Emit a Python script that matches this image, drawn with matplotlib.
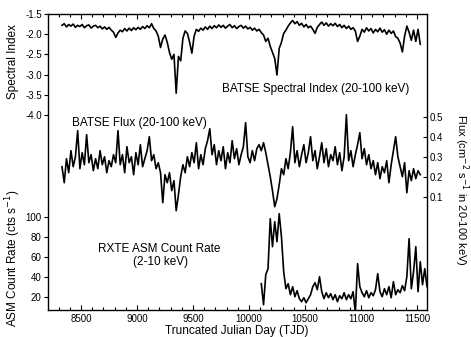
import numpy as np
import matplotlib.pyplot as plt
from matplotlib.ticker import MultipleLocator, FormatStrFormatter

plt.rcParams['font.family'] = ['Liberation Sans', 'DejaVu Sans']
plt.rcParams['axes.unicode_minus'] = False

# BATSE spectral index, sampled every 20 days from TJD 8330
spec_day = np.arange(8330, 11531, 20)
spec_index = [
    -1.78, -1.74, -1.82, -1.76, -1.80, -1.75, -1.83, -1.78, -1.81, -1.76,
    -1.84, -1.79, -1.77, -1.85, -1.80, -1.78, -1.84, -1.80, -1.87, -1.82,
    -1.88, -1.83, -1.90, -1.95, -2.08, -1.97, -1.90, -1.94, -1.86, -1.92,
    -1.85, -1.91, -1.84, -1.89, -1.83, -1.88, -1.81, -1.86, -1.79, -1.84,
    -1.74, -1.86, -1.92, -2.05, -2.33, -2.12, -2.02, -2.20, -2.45, -2.62,
    -2.50, -3.46, -2.55, -2.66, -2.10, -1.92, -1.98, -2.20, -2.47, -2.05,
    -1.88, -1.93, -1.85, -1.90, -1.82, -1.88, -1.80, -1.86, -1.79, -1.84,
    -1.77, -1.83, -1.78, -1.85, -1.80, -1.76, -1.84, -1.79, -1.86, -1.81,
    -1.78, -1.85, -1.80, -1.87, -1.83, -1.90, -1.85, -1.92, -1.88, -1.96,
    -2.02, -2.18, -2.10, -2.30, -2.45, -2.60, -3.01, -2.35, -2.20, -1.98,
    -1.90, -1.80, -1.72, -1.66, -1.74, -1.69, -1.78, -1.73, -1.82, -1.76,
    -1.84, -1.80, -1.88, -1.98, -1.83, -1.76, -1.70, -1.78, -1.72, -1.80,
    -1.74, -1.79, -1.73, -1.81, -1.76, -1.84, -1.78, -1.86, -1.80, -1.88,
    -1.84, -1.92, -2.18, -2.05, -1.88, -1.95, -1.84, -1.92, -1.86, -1.97,
    -1.88, -1.94, -1.85, -1.95, -1.89, -2.00, -1.90, -1.98, -1.92, -2.06,
    -2.10, -2.22, -2.44, -2.05, -1.80, -1.95, -2.15, -1.90, -2.18, -1.88,
    -2.25,
]

# BATSE flux 20-100 keV, same sampling
flux_day = np.arange(8330, 11531, 20)
flux = [
    0.25, 0.17, 0.29, 0.22, 0.33, 0.25, 0.30, 0.43, 0.24, 0.32,
    0.26, 0.41, 0.27, 0.31, 0.23, 0.29, 0.24, 0.33, 0.26, 0.30,
    0.22, 0.28, 0.25, 0.31, 0.27, 0.43, 0.26, 0.31, 0.22, 0.35,
    0.27, 0.30, 0.21, 0.32, 0.26, 0.36, 0.25, 0.29, 0.33, 0.40,
    0.28, 0.31, 0.24, 0.27, 0.22, 0.07, 0.21, 0.17, 0.22, 0.13,
    0.18, 0.03, 0.11, 0.20, 0.26, 0.22, 0.30, 0.25, 0.32, 0.27,
    0.37, 0.24, 0.31, 0.26, 0.34, 0.38, 0.44, 0.31, 0.36, 0.26,
    0.33, 0.28, 0.35, 0.24, 0.32, 0.27, 0.38, 0.29, 0.34, 0.26,
    0.31, 0.35, 0.47, 0.30, 0.27, 0.33, 0.28, 0.34, 0.36, 0.33,
    0.37, 0.32, 0.26, 0.20, 0.13, 0.05, 0.09, 0.16, 0.24, 0.21,
    0.29, 0.24, 0.32, 0.45, 0.27, 0.33, 0.25, 0.31, 0.36, 0.27,
    0.32, 0.40, 0.28, 0.33, 0.24, 0.30, 0.37, 0.27, 0.34, 0.25,
    0.31, 0.28, 0.35, 0.26, 0.32, 0.23, 0.30, 0.51, 0.28, 0.33,
    0.25, 0.31, 0.36, 0.42, 0.29, 0.34, 0.26, 0.31, 0.24, 0.28,
    0.21, 0.27, 0.19, 0.25, 0.22, 0.28, 0.17, 0.26, 0.33, 0.40,
    0.30, 0.25, 0.20, 0.27, 0.12, 0.23, 0.18, 0.24, 0.19, 0.23,
    0.21,
]

# RXTE ASM count rate 2-10 keV, every 20 days from TJD 10110
asm_day = np.arange(10110, 11591, 20)
asm_rate = [
    33, 12, 42, 48, 98, 70, 95, 75, 103, 80,
    45, 28, 33, 22, 30, 20, 26, 18, 15, 19,
    14, 18, 22, 30, 34, 27, 40, 25, 18, 24,
    19, 23, 17, 22, 15, 21, 18, 24, 17, 22,
    18, 25, 4, 53, 30, 24, 20, 26, 19, 24,
    21, 27, 43, 25, 20, 28, 22, 30, 19, 35,
    22, 27, 24, 31, 26, 40, 78, 28, 45, 70,
    25, 55, 32, 48, 30,
]

W, H = 471, 337
fig = plt.figure(figsize=(W / 100, H / 100), dpi=100)
box = [48 / W, 1 - 310 / H, (427 - 48) / W, (310 - 14) / H]

def px(x, y):
    return x / W, 1 - y / H

# outer frame carries the x axis
ax = fig.add_axes(box)
ax.set_xlim(8205, 11590)
ax.set_yticks([])
ax.xaxis.set_major_locator(MultipleLocator(500))
ax.xaxis.set_minor_locator(MultipleLocator(100))
ax.tick_params(axis='x', which='major', direction='in', top=True, length=3.5,
               width=0.8, labelsize=7, pad=3)
ax.tick_params(axis='x', which='minor', direction='in', top=True, length=2.5, width=0.8)
for s in ax.spines.values():
    s.set_linewidth(1.0)

def overlay():
    a = fig.add_axes(box, sharex=ax)
    a.patch.set_visible(False)
    for s in a.spines.values():
        s.set_visible(False)
    a.xaxis.set_visible(False)
    return a

# spectral index panel
ax1 = overlay()
ax1.plot(spec_day, spec_index, color='black', lw=1.2)
ax1.set_ylim(-1.5 - 296 * 0.02475, -1.5)
ax1.set_yticks(np.arange(-4.0, -1.49, 0.5))
ax1.yaxis.set_major_formatter(FormatStrFormatter('%.1f'))
ax1.tick_params(axis='y', direction='out', length=3, width=0.8, labelsize=7, pad=1.5)

# flux panel, right axis
ax2 = overlay()
ax2.plot(flux_day, flux, color='black', lw=1.2)
ax2.set_ylim(0.5 - 193.3 / 200, 0.5 + 102.7 / 200)
ax2.yaxis.tick_right()
ax2.set_yticks([0.1, 0.2, 0.3, 0.4, 0.5])
ax2.yaxis.set_major_formatter(FormatStrFormatter('%.1f'))
ax2.tick_params(axis='y', direction='in', length=3, width=0.8, labelsize=7, pad=2)

# ASM panel
ax3 = overlay()
ax3.plot(asm_day, asm_rate, color='black', lw=1.2)
ax3.set_ylim(6.7, 302.7)
ax3.set_yticks([20, 40, 60, 80, 100])
ax3.tick_params(axis='y', direction='out', length=3, width=0.8, labelsize=7, pad=1.5)

fs = 8.5
fig.text(*px(222, 89), 'BATSE Spectral Index (20-100 keV)', fontsize=fs, va='center', ha='left')
fig.text(*px(72, 123), 'BATSE Flux (20-100 keV)', fontsize=fs, va='center', ha='left')
fig.text(*px(159, 249.5), 'RXTE ASM Count Rate', fontsize=fs, va='center', ha='center')
fig.text(*px(161, 262.5), '(2-10 keV)', fontsize=fs, va='center', ha='center')

fig.text(*px(13, 62), 'Spectral Index', fontsize=fs, rotation=90, va='center', ha='center')
fig.text(*px(13, 258), 'ASM Count Rate (cts s$^{-1}$)', fontsize=fs, rotation=90,
         va='center', ha='center')
fig.text(*px(461, 190), 'Flux (cm$^{-2}$ s$^{-1}$ in 20-100 keV)', fontsize=8, rotation=270,
         va='center', ha='center')
fig.text(*px(237, 331), 'Truncated Julian Day (TJD)', fontsize=fs, va='center', ha='center')

fig.savefig('out.png', dpi=100)
